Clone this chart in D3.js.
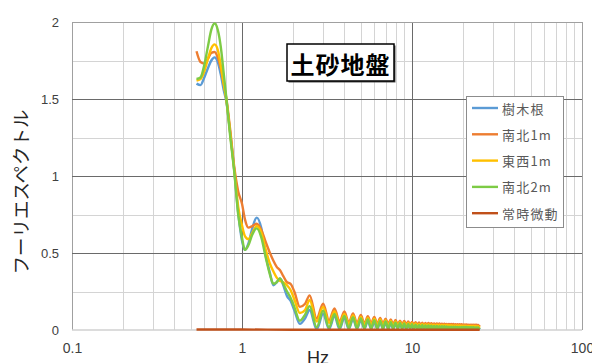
<!DOCTYPE html>
<html>
<head>
<meta charset="utf-8">
<script src="https://cdn.jsdelivr.net/npm/d3@7/dist/d3.min.js"></script>
<style>
  html, body { margin: 0; padding: 0; background: #fff; }
  svg { display: block; }
</style>
</head>
<body>
<svg id="chart" width="592" height="363"></svg>
<script>
// Frequency axis (Hz) shared by the four spectra
const freq = [
  0.54, 0.57, 0.6, 0.63, 0.66, 0.69, 0.72, 0.75, 0.78, 0.81,
  0.85, 0.9, 0.95, 1.0, 1.04, 1.09, 1.15, 1.22, 1.3, 1.38,
  1.46, 1.53, 1.6, 1.67, 1.75, 1.84, 1.93, 2.03, 2.19, 2.35,
  2.5, 2.75, 3.0, 3.25, 3.5, 3.75, 4.0, 4.25, 4.5, 4.75,
  5.0, 5.25, 5.5, 5.75, 6.0, 6.25, 6.5, 6.75, 7.0, 7.25,
  7.5, 7.75, 8.0, 8.25, 8.5, 8.75, 9.0, 9.25, 9.5, 9.75,
  10.0, 10.25, 10.5, 10.75, 11.0, 11.25, 11.5, 11.75, 12.0, 12.25,
  12.5, 12.75, 13.0, 13.25, 13.5, 13.75, 14.0, 14.25, 14.5, 14.75,
  15.0, 15.25, 15.5, 15.75, 16.0, 16.25, 16.5, 16.75, 17.0, 17.25,
  17.5, 17.75, 18.0, 18.25, 18.5, 18.75, 19.0, 19.25, 19.5, 19.75,
  20.0, 20.25, 20.5, 20.75, 21.0, 21.25, 21.5, 21.75, 22.0, 22.25,
  22.5, 22.75, 23.0, 23.25, 23.5, 23.75, 24.0, 24.25, 24.5, 24.75,
  25.0
];

// 樹木根
const jumokukon = [
  1.60, 1.59, 1.64, 1.70, 1.75, 1.77, 1.74, 1.66, 1.56, 1.48,
  1.29, 1.04, 0.76, 0.58, 0.52, 0.56, 0.66, 0.73, 0.66, 0.48,
  0.37, 0.29, 0.31, 0.335, 0.29, 0.22, 0.19, 0.13, 0.04, 0.075,
  0.130, 0.004, 0.105, 0.006, 0.090, 0.006, 0.080, 0.006, 0.072, 0.006,
  0.065, 0.006, 0.060, 0.006, 0.055, 0.006, 0.051, 0.006, 0.048, 0.006,
  0.045, 0.006, 0.042, 0.006, 0.040, 0.006, 0.037, 0.006, 0.035, 0.006,
  0.033, 0.006, 0.031, 0.006, 0.030, 0.006, 0.029, 0.006, 0.027, 0.006,
  0.026, 0.006, 0.025, 0.006, 0.024, 0.006, 0.023, 0.006, 0.022, 0.006,
  0.021, 0.006, 0.021, 0.006, 0.020, 0.006, 0.019, 0.006, 0.019, 0.006,
  0.018, 0.006, 0.018, 0.006, 0.017, 0.006, 0.017, 0.006, 0.017, 0.006,
  0.016, 0.006, 0.016, 0.006, 0.016, 0.006, 0.015, 0.006, 0.015, 0.006,
  0.015, 0.006, 0.015, 0.006, 0.014, 0.006, 0.014, 0.006, 0.014, 0.006,
  0.014
];

// 南北1m
const nanboku1m = [
  1.81, 1.74, 1.73, 1.76, 1.80, 1.805, 1.77, 1.70, 1.60, 1.50,
  1.31, 1.06, 0.90, 0.82, 0.72, 0.665, 0.675, 0.69, 0.65, 0.57,
  0.50, 0.45, 0.41, 0.39, 0.35, 0.31, 0.30, 0.25, 0.15, 0.17,
  0.225, 0.075, 0.170, 0.062, 0.140, 0.053, 0.120, 0.048, 0.107, 0.045,
  0.097, 0.043, 0.090, 0.042, 0.085, 0.041, 0.079, 0.040, 0.074, 0.039,
  0.069, 0.038, 0.065, 0.038, 0.061, 0.037, 0.058, 0.037, 0.055, 0.036,
  0.052, 0.036, 0.050, 0.035, 0.049, 0.035, 0.047, 0.034, 0.046, 0.034,
  0.045, 0.034, 0.044, 0.033, 0.043, 0.033, 0.043, 0.033, 0.042, 0.032,
  0.041, 0.032, 0.041, 0.032, 0.040, 0.031, 0.040, 0.031, 0.039, 0.031,
  0.039, 0.030, 0.038, 0.030, 0.038, 0.030, 0.037, 0.030, 0.037, 0.029,
  0.036, 0.029, 0.036, 0.029, 0.036, 0.029, 0.035, 0.028, 0.035, 0.028,
  0.035, 0.028, 0.034, 0.028, 0.034, 0.028, 0.034, 0.027, 0.033, 0.027,
  0.033
];

// 東西1m
const touzai1m = [
  1.62, 1.63, 1.68, 1.76, 1.83, 1.855, 1.82, 1.72, 1.60, 1.49,
  1.29, 1.04, 0.80, 0.68, 0.61, 0.59, 0.63, 0.675, 0.63, 0.52,
  0.43, 0.38, 0.34, 0.32, 0.31, 0.29, 0.26, 0.20, 0.11, 0.13,
  0.195, 0.055, 0.150, 0.046, 0.122, 0.040, 0.105, 0.036, 0.094, 0.034,
  0.085, 0.032, 0.079, 0.031, 0.073, 0.030, 0.068, 0.029, 0.063, 0.028,
  0.059, 0.028, 0.055, 0.027, 0.052, 0.027, 0.049, 0.026, 0.046, 0.026,
  0.044, 0.026, 0.042, 0.025, 0.040, 0.025, 0.039, 0.025, 0.038, 0.024,
  0.037, 0.024, 0.036, 0.024, 0.035, 0.023, 0.034, 0.023, 0.034, 0.023,
  0.033, 0.023, 0.032, 0.022, 0.032, 0.022, 0.031, 0.022, 0.031, 0.022,
  0.030, 0.021, 0.030, 0.021, 0.029, 0.021, 0.029, 0.021, 0.028, 0.020,
  0.028, 0.020, 0.028, 0.020, 0.027, 0.020, 0.027, 0.020, 0.027, 0.019,
  0.026, 0.019, 0.026, 0.019, 0.026, 0.019, 0.025, 0.019, 0.025, 0.018,
  0.025
];

// 南北2m
const nanboku2m = [
  1.63, 1.64, 1.72, 1.84, 1.95, 1.99, 1.95, 1.84, 1.67, 1.50,
  1.27, 1.03, 0.75, 0.60, 0.52, 0.55, 0.62, 0.66, 0.60, 0.47,
  0.36, 0.30, 0.31, 0.335, 0.30, 0.25, 0.21, 0.15, 0.06, 0.10,
  0.155, 0.018, 0.125, 0.015, 0.105, 0.014, 0.092, 0.013, 0.083, 0.013,
  0.075, 0.012, 0.069, 0.012, 0.064, 0.012, 0.059, 0.011, 0.055, 0.011,
  0.051, 0.011, 0.048, 0.011, 0.045, 0.010, 0.042, 0.010, 0.040, 0.010,
  0.037, 0.010, 0.035, 0.010, 0.033, 0.010, 0.032, 0.010, 0.030, 0.010,
  0.029, 0.010, 0.028, 0.010, 0.027, 0.010, 0.026, 0.010, 0.025, 0.010,
  0.024, 0.010, 0.024, 0.010, 0.023, 0.010, 0.022, 0.010, 0.022, 0.010,
  0.021, 0.010, 0.021, 0.010, 0.020, 0.010, 0.020, 0.010, 0.020, 0.010,
  0.019, 0.010, 0.019, 0.010, 0.019, 0.010, 0.018, 0.010, 0.018, 0.010,
  0.018, 0.010, 0.018, 0.010, 0.017, 0.010, 0.017, 0.010, 0.017, 0.010,
  0.017
];

// 常時微動 (microtremor reference, nearly flat)
const bidouFreq = [0.54, 1.0, 2.0, 5.0, 10.0, 25.0];
const bidou = [0.003, 0.003, 0.002, 0.002, 0.002, 0.002];

const seriesNames = ["樹木根", "南北1m", "東西1m", "南北2m", "常時微動"];
const seriesColors = ["#5B9BD5", "#ED7D31", "#FFC000", "#7DCB45", "#C0501A"];

const xTickValues = [0.1, 1, 10, 100];
const xTickLabels = ["0.1", "1", "10", "100"];
const yTickValues = [0, 0.5, 1, 1.5, 2];
const yTickLabels = ["0", "0.5", "1", "1.5", "2"];

const titleText = "土砂地盤";
const yTitle = "フーリエスペクトル";
const xTitle = "Hz";

// ---- layout ----
const plot = { left: 72, right: 582, top: 22, bottom: 330 };
const svg = d3.select("#chart");

const x = d3.scaleLog().domain([0.1, 100]).range([plot.left, plot.right]);
const y = d3.scaleLinear().domain([0, 2]).range([plot.bottom, plot.top]);

// background
svg.append("rect").attr("width", 592).attr("height", 363).attr("fill", "#fff");

// ---- gridlines ----
const grid = svg.append("g");
const minorX = x.ticks().filter(v => !xTickValues.includes(v));
grid.selectAll("line.mx").data(minorX).join("line")
  .attr("x1", d => Math.round(x(d)) + 0.5).attr("x2", d => Math.round(x(d)) + 0.5)
  .attr("y1", plot.top).attr("y2", plot.bottom)
  .attr("stroke", "#d4d4d4").attr("stroke-width", 1);

const minorY = [0.25, 0.75, 1.25, 1.75];
grid.selectAll("line.my").data(minorY).join("line")
  .attr("x1", plot.left).attr("x2", plot.right)
  .attr("y1", d => Math.round(y(d)) + 0.5).attr("y2", d => Math.round(y(d)) + 0.5)
  .attr("stroke", "#d4d4d4").attr("stroke-width", 1);

grid.selectAll("line.Mx").data(xTickValues).join("line")
  .attr("x1", d => Math.round(x(d)) + 0.5).attr("x2", d => Math.round(x(d)) + 0.5)
  .attr("y1", plot.top).attr("y2", plot.bottom)
  .attr("stroke", (d, i) => (i === 0 || i === xTickValues.length - 1) ? "#a0a0a0" : "#6a6a6a")
  .attr("stroke-width", 1);

grid.selectAll("line.My").data(yTickValues.filter(v => v > 0)).join("line")
  .attr("x1", plot.left).attr("x2", plot.right)
  .attr("y1", d => Math.round(y(d)) + 0.5).attr("y2", d => Math.round(y(d)) + 0.5)
  .attr("stroke", d => d === 2 ? "#a0a0a0" : "#6a6a6a")
  .attr("stroke-width", 1);

// baseline axis
svg.append("line")
  .attr("x1", plot.left).attr("x2", plot.right)
  .attr("y1", y(0)).attr("y2", y(0))
  .attr("stroke", "#d0d0d0").attr("stroke-width", 1.5);

// ---- axes labels ----
const xAxis = d3.axisBottom(x).tickValues(xTickValues)
  .tickFormat((d, i) => xTickLabels[i]).tickSize(0).tickPadding(13);
svg.append("g").attr("transform", `translate(0,${plot.bottom})`).call(xAxis)
  .call(g => g.select(".domain").remove())
  .call(g => g.selectAll("text").attr("font-family", "'Liberation Sans', Arial, sans-serif")
    .attr("font-size", 14).attr("fill", "#404040"));

const yAxis = d3.axisLeft(y).tickValues(yTickValues)
  .tickFormat((d, i) => yTickLabels[i]).tickSize(0).tickPadding(13);
svg.append("g").attr("transform", `translate(${plot.left},0)`).call(yAxis)
  .call(g => g.select(".domain").remove())
  .call(g => g.selectAll("text").attr("font-family", "'Liberation Sans', Arial, sans-serif")
    .attr("font-size", 13).attr("fill", "#404040"));

// ---- series ----
const line = d3.line()
  .x(d => x(d[0])).y(d => y(d[1]))
  .curve(d3.curveMonotoneX);

const spectra = [jumokukon, nanboku1m, touzai1m, nanboku2m];
const lines = svg.append("g");
spectra.forEach((vals, i) => {
  lines.append("path")
    .datum(freq.map((f, k) => [f, vals[k]]))
    .attr("d", line)
    .attr("fill", "none")
    .attr("stroke", seriesColors[i])
    .attr("stroke-width", 2.4)
    .attr("stroke-linejoin", "round");
});
lines.append("path")
  .datum(bidouFreq.map((f, k) => [f, bidou[k]]))
  .attr("d", line)
  .attr("fill", "none")
  .attr("stroke", seriesColors[4])
  .attr("stroke-width", 2.4);

// ---- title box ----
const tb = { x: 287, y: 44, w: 107, h: 37 };
svg.append("rect").attr("x", tb.x + 1.5).attr("y", tb.y + 1.5)
  .attr("width", tb.w).attr("height", tb.h).attr("fill", "#555");
svg.append("rect").attr("x", tb.x).attr("y", tb.y)
  .attr("width", tb.w).attr("height", tb.h)
  .attr("fill", "#fff").attr("stroke", "#000").attr("stroke-width", 1.5);
svg.append("text")
  .attr("x", tb.x + tb.w / 2).attr("y", tb.y + tb.h / 2 + 1)
  .attr("text-anchor", "middle").attr("dominant-baseline", "central")
  .attr("font-family", "'Noto Sans CJK JP', sans-serif").attr("font-weight", 700)
  .attr("font-size", 24).attr("letter-spacing", 1).attr("fill", "#000")
  .text(titleText);

// ---- legend ----
const lg = { x: 466, y: 96, w: 97, h: 131 };
svg.append("rect").attr("x", lg.x + 0.5).attr("y", lg.y + 0.5)
  .attr("width", lg.w).attr("height", lg.h)
  .attr("fill", "#fff").attr("stroke", "#8c8c8c").attr("stroke-width", 1);
const legendRows = svg.append("g").selectAll("g").data(seriesNames).join("g")
  .attr("transform", (d, i) => `translate(${lg.x}, ${108 + i * 26.3})`);
legendRows.append("line")
  .attr("x1", 6).attr("x2", 32).attr("y1", 0).attr("y2", 0)
  .attr("stroke", (d, i) => seriesColors[i]).attr("stroke-width", 2.4);
legendRows.append("text")
  .attr("x", 36).attr("y", 0).attr("dominant-baseline", "central")
  .attr("font-family", "'Noto Sans CJK JP', sans-serif")
  .attr("font-size", 13).attr("letter-spacing", 1.2).attr("fill", "#595959")
  .text(d => d);

// ---- axis titles ----
svg.append("text")
  .attr("transform", "translate(20,192) rotate(-90)")
  .attr("text-anchor", "middle").attr("dominant-baseline", "central")
  .attr("font-family", "'Noto Sans CJK JP', sans-serif")
  .attr("font-size", 18.5).attr("fill", "#262626")
  .text(yTitle);

svg.append("text")
  .attr("x", 318).attr("y", 364)
  .attr("text-anchor", "middle")
  .attr("font-family", "'Liberation Sans', Arial, sans-serif")
  .attr("font-size", 18).attr("fill", "#262626")
  .text(xTitle);
</script>
</body>
</html>
